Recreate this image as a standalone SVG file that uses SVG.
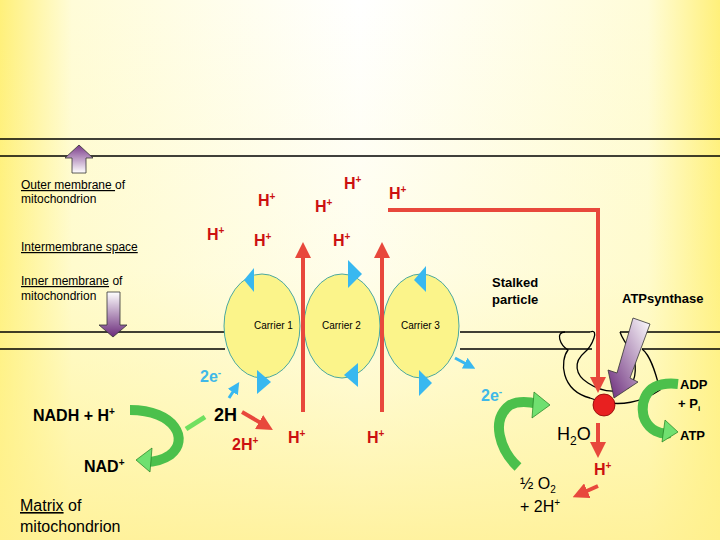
<svg xmlns="http://www.w3.org/2000/svg" width="720" height="540" viewBox="0 0 720 540">
<defs>
<linearGradient id="bgx" x1="0" y1="0" x2="1" y2="0">
<stop offset="0" stop-color="#fff07a"/><stop offset="0.1" stop-color="#fffcd8"/><stop offset="0.5" stop-color="#ffffff"/><stop offset="0.9" stop-color="#fffcd8"/><stop offset="1" stop-color="#fff07a"/>
</linearGradient>
<linearGradient id="bgy" x1="0" y1="0" x2="0" y2="1">
<stop offset="0" stop-color="#fff7a0" stop-opacity="0"/><stop offset="0.5" stop-color="#fff7a0" stop-opacity="0.2"/><stop offset="1" stop-color="#fff090" stop-opacity="0.85"/>
</linearGradient>
<linearGradient id="pu" x1="0" y1="0" x2="0" y2="1"><stop offset="0" stop-color="#7a3a8a"/><stop offset="1" stop-color="#ffffff"/></linearGradient>
<linearGradient id="pd" x1="0" y1="0" x2="0" y2="1"><stop offset="0" stop-color="#ffffff"/><stop offset="1" stop-color="#6a2a7a"/></linearGradient>
<linearGradient id="pg" x1="1" y1="0" x2="0" y2="1"><stop offset="0" stop-color="#ffffff"/><stop offset="1" stop-color="#6a2a7a"/></linearGradient>
<marker id="rh" markerWidth="4" markerHeight="4" refX="2" refY="2" orient="auto" markerUnits="strokeWidth"><path d="M0,0 L4,2 L0,4 z" fill="#e8483c"/></marker>
<marker id="bh" markerWidth="4" markerHeight="4" refX="2" refY="2" orient="auto" markerUnits="strokeWidth"><path d="M0,0 L4,2 L0,4 z" fill="#38b8f0"/></marker>
</defs>
<style>
.t{font-family:"Liberation Sans",Arial,sans-serif;fill:#000}
.h{font-family:"Liberation Sans",Arial,sans-serif;font-weight:bold;fill:#cc1010;font-size:16px}
.b{font-weight:bold}
.m{stroke:#000;stroke-width:1.3;fill:none}
.car{fill:#fbf48a;stroke:#4aa8a0;stroke-width:1}
.tri{fill:#38b8f0}
.red{stroke:#e8483c;stroke-width:4;fill:none}
.g{fill:none;stroke-width:10;stroke-linecap:butt}
</style>
<rect width="720" height="540" fill="url(#bgx)"/>
<rect width="720" height="540" fill="url(#bgy)"/>
<g id="membranes">
<line class="m" x1="0" y1="139" x2="720" y2="139"/><line class="m" x1="0" y1="156" x2="720" y2="156"/>
<line class="m" x1="0" y1="332" x2="225" y2="332"/><line class="m" x1="0" y1="349" x2="225" y2="349"/>
<line class="m" x1="460" y1="332" x2="590" y2="332"/><line class="m" x1="460" y1="349" x2="592" y2="349"/>
<line class="m" x1="620" y1="332" x2="720" y2="332"/><line class="m" x1="642" y1="349" x2="720" y2="349"/>
<path class="m" d="M590,332 C600,328 592,346 585,352 C573,362 575,375 588,383 C597,389 610,395 628,388 C638,380 636,362 632,352 C626,344 622,338 620,332"/>
<path class="m" d="M565,332 C555,332 560,345 568,350 C560,360 560,390 590,398 C620,410 645,400 660,390 C655,370 650,355 642,349"/>
</g>
<g id="carriers">
<ellipse class="car" cx="262" cy="326" rx="38" ry="52"/>
<ellipse class="car" cx="342" cy="326" rx="38" ry="52"/>
<ellipse class="car" cx="421" cy="326" rx="38" ry="52"/>
<text class="t" x="254" y="329" font-size="10">Carrier 1</text>
<text class="t" x="322" y="329" font-size="10">Carrier 2</text>
<text class="t" x="401" y="329" font-size="10">Carrier 3</text>
<polygon class="tri" points="254,268 254,292 244,280"/>
<polygon class="tri" points="257,370 257,394 271,382"/>
<polygon class="tri" points="348,260 348,288 362,274"/>
<polygon class="tri" points="358,363 358,387 344,375"/>
<polygon class="tri" points="426,266 426,292 414,280"/>
<polygon class="tri" points="419,370 419,396 432,383"/>
</g>
<g id="connectors">
<line class="red" x1="303" y1="412" x2="303" y2="250" marker-end="url(#rh)"/>
<line class="red" x1="382" y1="412" x2="382" y2="250" marker-end="url(#rh)"/>
<path class="red" d="M388,210 L598,210 L598,385" marker-end="url(#rh)"/>
<line class="red" x1="598" y1="423" x2="598" y2="450" marker-end="url(#rh)"/>
<line class="red" x1="598" y1="486" x2="580" y2="494" marker-end="url(#rh)"/>
<line class="red" x1="242" y1="412" x2="266" y2="426" stroke="#dd1010" marker-end="url(#rh)"/>
<line x1="455" y1="358" x2="470" y2="366" stroke="#38b8f0" stroke-width="3" marker-end="url(#bh)"/>
<line x1="229" y1="398" x2="236" y2="387" stroke="#38b8f0" stroke-width="3" marker-end="url(#bh)"/>
<line x1="205" y1="417" x2="186" y2="429" stroke="#70e060" stroke-width="5"/>
<path class="g" stroke="#4cc04c" d="M130,410 C175,410 190,440 170,455 C160,462 150,462 145,462"/>
<polygon points="136,460 152,448 150,472" fill="#70e070" stroke="#208020" stroke-width="0.7"/>
<path class="g" stroke="#4cc04c" d="M518,467 C500,450 490,420 510,405 C520,400 530,402 538,404"/>
<polygon points="550,405 534,392 532,418" fill="#70e070" stroke="#208020" stroke-width="0.7"/>
<path class="g" stroke="#4cc04c" d="M678,384 C640,380 640,410 645,420 C650,430 660,435 670,433"/>
<polygon points="678,432 665,420 662,442" fill="#70e070" stroke="#208020" stroke-width="0.7"/>
<polygon points="72,173 86,173 86,158 93,158 79,145 65,158 72,158" fill="url(#pu)" stroke="#333" stroke-width="0.8"/>
<polygon points="107,292 120,292 120,325 127,325 113,337 99,325 107,325" fill="url(#pd)" stroke="#333" stroke-width="0.8"/>
<polygon points="633,318 650,324 630,378 638,382 614,398 608,370 617,373" fill="url(#pg)" stroke="#333" stroke-width="0.8"/>
</g>
<circle cx="604" cy="405" r="11" fill="#e82020" stroke="#800" stroke-width="0.8"/>
<g id="labels">
<text class="t" x="21" y="189" font-size="12"><tspan text-decoration="underline">Outer membrane </tspan>of</text>
<text class="t" x="21" y="203" font-size="12">mitochondrion</text>
<text class="t" x="21" y="251" font-size="12" text-decoration="underline">Intermembrane space</text>
<text class="t" x="21" y="285" font-size="12"><tspan text-decoration="underline">Inner membrane</tspan> of</text>
<text class="t" x="21" y="300" font-size="12">mitochondrion</text>
<text class="h" x="207" y="240">H<tspan font-size="10" dy="-6">+</tspan></text>
<text class="h" x="258" y="206">H<tspan font-size="10" dy="-6">+</tspan></text>
<text class="h" x="254" y="246">H<tspan font-size="10" dy="-6">+</tspan></text>
<text class="h" x="315" y="212">H<tspan font-size="10" dy="-6">+</tspan></text>
<text class="h" x="344" y="189">H<tspan font-size="10" dy="-6">+</tspan></text>
<text class="h" x="389" y="199">H<tspan font-size="10" dy="-6">+</tspan></text>
<text class="h" x="333" y="246">H<tspan font-size="10" dy="-6">+</tspan></text>
<text class="h" x="288" y="443">H<tspan font-size="10" dy="-6">+</tspan></text>
<text class="h" x="367" y="443">H<tspan font-size="10" dy="-6">+</tspan></text>
<text class="h" x="232" y="450">2H<tspan font-size="10" dy="-6">+</tspan></text>
<text class="h" x="594" y="475">H<tspan font-size="10" dy="-6">+</tspan></text>
<text class="t b" x="492" y="287" font-size="13">Stalked</text>
<text class="t b" x="492" y="304" font-size="13">particle</text>
<text class="t b" x="622" y="303" font-size="13">ATPsynthase</text>
<text class="t b" x="200" y="382" font-size="16" style="fill:#40b8e8">2e<tspan font-size="10" dy="-6">-</tspan></text>
<text class="t b" x="481" y="401" font-size="16" style="fill:#40b8e8">2e<tspan font-size="10" dy="-6">-</tspan></text>
<text class="t b" x="33" y="421" font-size="16">NADH + H<tspan font-size="10" dy="-6">+</tspan></text>
<text class="t b" x="214" y="421" font-size="18">2H</text>
<text class="t b" x="84" y="472" font-size="16">NAD<tspan font-size="10" dy="-6">+</tspan></text>
<text class="t" x="20" y="511" font-size="16"><tspan text-decoration="underline">Matrix</tspan> of</text>
<text class="t" x="20" y="532" font-size="16">mitochondrion</text>
<text class="t" x="557" y="440" font-size="18">H<tspan font-size="12" dy="5">2</tspan><tspan dy="-5">O</tspan></text>
<text class="t" x="520" y="489" font-size="16">½ O<tspan font-size="10" dy="4">2</tspan></text>
<text class="t" x="520" y="512" font-size="16">+ 2H<tspan font-size="10" dy="-6">+</tspan></text>
<text class="t b" x="680" y="389" font-size="13">ADP</text>
<text class="t b" x="678" y="408" font-size="13">+ P<tspan font-size="8" dy="3">i</tspan></text>
<text class="t b" x="680" y="440" font-size="13">ATP</text>
</g>
</svg>
